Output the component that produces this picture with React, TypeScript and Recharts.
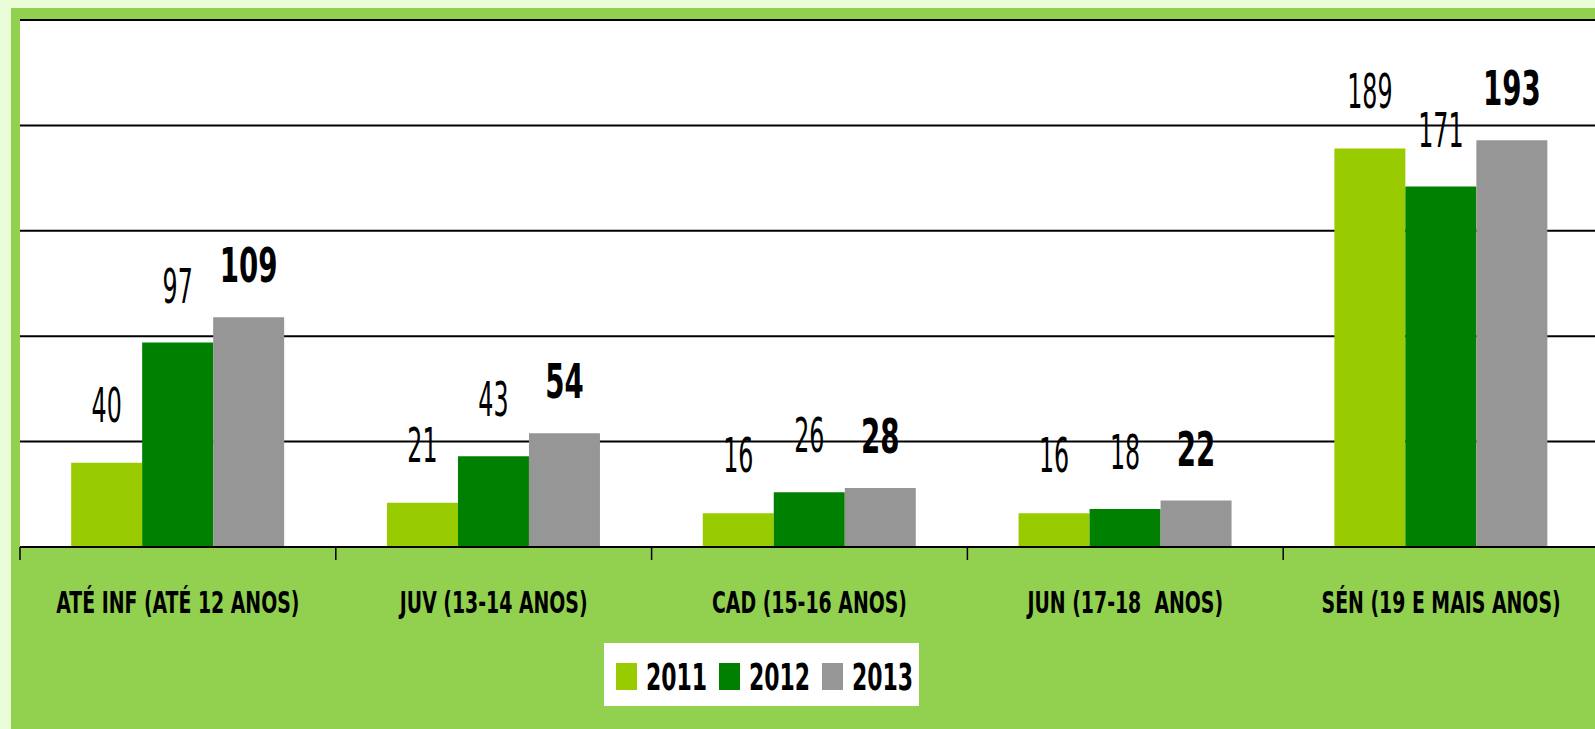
import React from 'react'
import { BarChart, Bar, XAxis, YAxis, CartesianGrid, LabelList } from 'recharts'

const categories = [
  'ATÉ INF (ATÉ 12 ANOS)',
  'JUV (13-14 ANOS)',
  'CAD (15-16 ANOS)',
  'JUN (17-18  ANOS)',
  'SÉN (19 E MAIS ANOS)',
]
const values2011 = [40, 21, 16, 16, 189]
const values2012 = [97, 43, 26, 18, 171]
const values2013 = [109, 54, 28, 22, 193]
const yTicks = [0, 50, 100, 150, 200, 250]
const seriesNames = ['2011', '2012', '2013']
const seriesColors = ['#99cc00', '#008000', '#969696']

const FONT = "'DejaVu Sans Condensed', 'DejaVu Sans', sans-serif"
const CHART_W = 1599
const CHART_H = 729
const LEFT = 20
const CAT_W = (CHART_W - LEFT) / categories.length

const chartData = categories.map((name, i) => ({
  name,
  y2011: values2011[i],
  y2012: values2012[i],
  y2013: values2013[i],
}))

// value label drawn above each bar, tall condensed digits
const makeLabel = (gap: number, bold: boolean) => (props: any) => {
  const { x, y, width, value } = props
  return (
    <text
      transform={`translate(${x + width / 2},${y - gap}) scale(${bold ? 0.64 : 0.55},1)`}
      textAnchor="middle"
      fontSize={48}
      fontWeight={bold ? 'bold' : 'normal'}
      fontFamily={FONT}
      fill="#000"
    >
      {value}
    </text>
  )
}

const CategoryTick = (props: any) => {
  const { x, y, payload } = props
  const edge = x - CAT_W / 2
  return (
    <g>
      <line x1={edge} x2={edge} y1={y} y2={y + 13} stroke="#000" strokeWidth={1.5} />
      <text
        transform={`translate(${x},${y + 66}) scale(0.7,1)`}
        textAnchor="middle"
        fontSize={30}
        fontWeight="bold"
        fontFamily={FONT}
        fill="#000"
        style={{ whiteSpace: 'pre' }}
      >
        {payload.value}
      </text>
    </g>
  )
}

const App = () => {
  return (
    <div
      style={{
        position: 'fixed',
        left: 0,
        top: 0,
        width: 1595,
        height: 729,
        overflow: 'hidden',
        background: '#ebfdd8',
      }}
    >
      <div style={{ position: 'absolute', left: 11, top: 8, right: 0, bottom: 0, background: '#92d050' }} />
      <div style={{ position: 'absolute', left: 0, top: 0 }}>
        <BarChart
          width={CHART_W}
          height={CHART_H}
          data={chartData}
          margin={{ top: 20, right: 0, left: LEFT, bottom: 0 }}
          barCategoryGap="16.2%"
          barGap={0}
        >
          <CartesianGrid vertical={false} fill="#fff" stroke="#000" strokeWidth={2} />
          <YAxis hide domain={[0, 250]} ticks={yTicks} />
          <XAxis
            dataKey="name"
            height={182}
            interval={0}
            tickLine={false}
            tickSize={0}
            tickMargin={0}
            axisLine={{ stroke: '#000', strokeWidth: 2 }}
            tick={<CategoryTick />}
          />
          <Bar dataKey="y2011" fill={seriesColors[0]} isAnimationActive={false}>
            <LabelList dataKey="y2011" content={makeLabel(41, false)} />
          </Bar>
          <Bar dataKey="y2012" fill={seriesColors[1]} isAnimationActive={false}>
            <LabelList dataKey="y2012" content={makeLabel(40, false)} />
          </Bar>
          <Bar dataKey="y2013" fill={seriesColors[2]} isAnimationActive={false}>
            <LabelList dataKey="y2013" content={makeLabel(35, true)} />
          </Bar>
        </BarChart>
      </div>
      <div style={{ position: 'absolute', left: 604, top: 643, width: 315, height: 63, background: '#fff' }}>
        <svg width={315} height={63}>
          {seriesNames.map((name, i) => (
            <g key={name} transform={`translate(${12 + i * 103},0)`}>
              <rect x={0} y={20} width={21} height={27} fill={seriesColors[i]} />
              <text
                transform="translate(30,47) scale(0.66,1)"
                fontSize={37}
                fontWeight="bold"
                fontFamily={FONT}
                fill="#000"
              >
                {name}
              </text>
            </g>
          ))}
        </svg>
      </div>
    </div>
  )
}

export default App
